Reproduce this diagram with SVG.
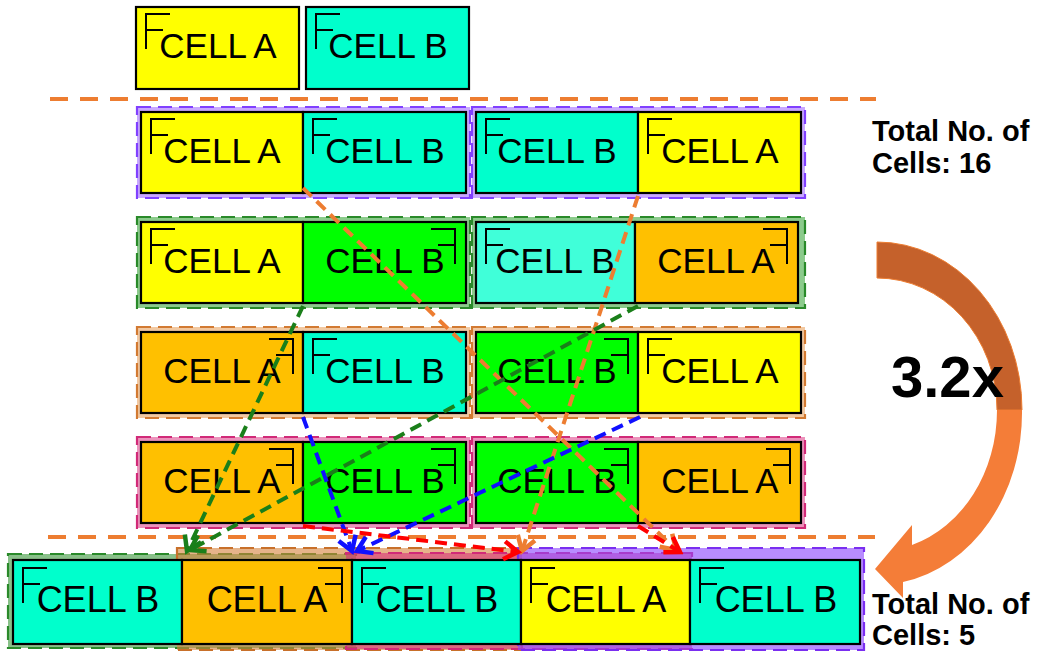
<svg xmlns="http://www.w3.org/2000/svg" xmlns:xlink="http://www.w3.org/1999/xlink" width="1037" height="651" viewBox="0 0 1037 651">
  <style>
    .cell { stroke: #000; stroke-width: 2.2; }
    .ya { fill: #FFFF00; }
    .cb { fill: #00FFCC; }
    .cb2 { fill: #40FFD9; }
    .gb { fill: #00FF00; }
    .oa { fill: #FFC000; }
    .lbl { font-family: "Liberation Sans", Arial, sans-serif; font-size: 35px; text-anchor: middle; fill: #000; }
    .lbl2 { font-family: "Liberation Sans", Arial, sans-serif; font-size: 36px; text-anchor: middle; fill: #000; }
    .mark { fill: none; stroke: #000; stroke-width: 2; }
    .band { stroke-width: 2.2; stroke-dasharray: 14 7; }
    .b-pur { fill: #C9A8FF; stroke: #8040FF; }
    .b-grn { fill: #8CCB8C; stroke: #2A8A2A; }
    .b-org { fill: #F2C9A2; stroke: #D27A32; }
    .b-pnk { fill: #EC93BC; stroke: #D12A78; }
    .o-grn { fill: rgba(40,140,40,0.55); stroke: #2A8A2A; }
    .o-org { fill: rgba(214,130,60,0.6); stroke: #C8702A; }
    .o-pnk { fill: rgba(214,40,120,0.55); stroke: #D12A78; }
    .o-pur { fill: rgba(140,70,255,0.62); stroke: #7A2EF0; }
    .sep { stroke: #ED7D31; stroke-width: 4; stroke-dasharray: 18 12; fill: none; }
    .conn { fill: none; stroke-width: 4; stroke-dasharray: 12 7; }
    .note { font-family: "Liberation Sans", Arial, sans-serif; font-weight: bold; font-size: 29px; fill: #000; }
  </style>
  <defs>
    <!-- orientation flags: normal F and mirrored F -->
    <path id="fN" class="mark" d="M0,35 V0 H24 M0,16 H17"/>
    <path id="fM" class="mark" d="M0,35 V0 H-24 M0,16 H-17"/>
    <marker id="ah-o" viewBox="-18 -12 22 24" markerWidth="22" markerHeight="24" refX="0" refY="0" orient="auto" markerUnits="userSpaceOnUse">
      <path d="M-14,-9 L0,0 L-14,9" fill="none" stroke="#ED7D31" stroke-width="4.5"/>
    </marker>
    <marker id="ah-g" viewBox="-18 -12 22 24" markerWidth="22" markerHeight="24" refX="0" refY="0" orient="auto" markerUnits="userSpaceOnUse">
      <path d="M-14,-9 L0,0 L-14,9" fill="none" stroke="#1A7F1A" stroke-width="4.5"/>
    </marker>
    <marker id="ah-b" viewBox="-18 -12 22 24" markerWidth="22" markerHeight="24" refX="0" refY="0" orient="auto" markerUnits="userSpaceOnUse">
      <path d="M-14,-9 L0,0 L-14,9" fill="none" stroke="#1010FF" stroke-width="4.5"/>
    </marker>
    <marker id="ah-r" viewBox="-18 -12 22 24" markerWidth="22" markerHeight="24" refX="0" refY="0" orient="auto" markerUnits="userSpaceOnUse">
      <path d="M-14,-9 L0,0 L-14,9" fill="none" stroke="#FF0000" stroke-width="4.5"/>
    </marker>
  </defs>

  <rect width="1037" height="651" fill="#fff"/>

  <!-- library cells -->
  <g id="lib-cell-a">
    <rect class="cell ya" x="136" y="7" width="163" height="82"/>
    <use href="#fN" x="146" y="14"/>
    <text class="lbl" x="218" y="58">CELL A</text>
  </g>
  <g id="lib-cell-b">
    <rect class="cell cb" x="306" y="7" width="163" height="82"/>
    <use href="#fN" x="316" y="14"/>
    <text class="lbl" x="388" y="58">CELL B</text>
  </g>

  <!-- separators -->
  <line class="sep" x1="50" y1="99" x2="876" y2="99"/>
  <line class="sep" x1="48" y1="537" x2="875" y2="537"/>

  <!-- row 1: purple pairs -->
  <g id="r1-left">
    <rect class="band b-pur" x="137" y="107" width="333" height="91"/>
    <rect class="cell ya" x="141" y="112" width="162" height="81"/>
    <rect class="cell cb" x="303" y="112" width="163" height="81"/>
    <use href="#fN" x="151" y="119"/>
    <use href="#fN" x="313" y="119"/>
    <text class="lbl" x="222" y="163">CELL A</text>
    <text class="lbl" x="385" y="163">CELL B</text>
  </g>
  <g id="r1-right">
    <rect class="band b-pur" x="472" y="107" width="333" height="91"/>
    <rect class="cell cb" x="476" y="112" width="162" height="81"/>
    <rect class="cell ya" x="638" y="112" width="163" height="81"/>
    <use href="#fN" x="486" y="119"/>
    <use href="#fN" x="648" y="119"/>
    <text class="lbl" x="557" y="163">CELL B</text>
    <text class="lbl" x="720" y="163">CELL A</text>
  </g>

  <!-- row 2: green pairs -->
  <g id="r2-left">
    <rect class="band b-grn" x="137" y="217" width="333" height="91"/>
    <rect class="cell ya" x="141" y="222" width="162" height="81"/>
    <rect class="cell gb" x="303" y="222" width="163" height="81"/>
    <use href="#fN" x="151" y="229"/>
    <use href="#fM" x="455" y="229"/>
    <text class="lbl" x="222" y="273">CELL A</text>
    <text class="lbl" x="385" y="273">CELL B</text>
  </g>
  <g id="r2-right">
    <rect class="band b-grn" x="472" y="217" width="333" height="91"/>
    <rect class="cell cb2" x="476" y="222" width="159" height="81"/>
    <rect class="cell oa" x="635" y="222" width="163" height="81"/>
    <use href="#fN" x="486" y="229"/>
    <use href="#fM" x="787" y="229"/>
    <text class="lbl" x="555" y="273">CELL B</text>
    <text class="lbl" x="716" y="273">CELL A</text>
  </g>

  <!-- row 3: orange pairs -->
  <g id="r3-left">
    <rect class="band b-org" x="137" y="327" width="333" height="91"/>
    <rect class="cell oa" x="141" y="332" width="162" height="81"/>
    <rect class="cell cb" x="303" y="332" width="163" height="81"/>
    <use href="#fM" x="293" y="339"/>
    <use href="#fN" x="313" y="339"/>
    <text class="lbl" x="222" y="383">CELL A</text>
    <text class="lbl" x="385" y="383">CELL B</text>
  </g>
  <g id="r3-right">
    <rect class="band b-org" x="472" y="327" width="333" height="91"/>
    <rect class="cell gb" x="476" y="332" width="162" height="81"/>
    <rect class="cell ya" x="638" y="332" width="163" height="81"/>
    <use href="#fM" x="628" y="339"/>
    <use href="#fN" x="648" y="339"/>
    <text class="lbl" x="557" y="383">CELL B</text>
    <text class="lbl" x="720" y="383">CELL A</text>
  </g>

  <!-- row 4: pink pairs -->
  <g id="r4-left">
    <rect class="band b-pnk" x="137" y="437" width="333" height="91"/>
    <rect class="cell oa" x="141" y="442" width="162" height="81"/>
    <rect class="cell gb" x="303" y="442" width="163" height="81"/>
    <use href="#fM" x="293" y="449"/>
    <use href="#fM" x="455" y="449"/>
    <text class="lbl" x="222" y="493">CELL A</text>
    <text class="lbl" x="385" y="493">CELL B</text>
  </g>
  <g id="r4-right">
    <rect class="band b-pnk" x="472" y="437" width="333" height="91"/>
    <rect class="cell gb" x="476" y="442" width="162" height="81"/>
    <rect class="cell oa" x="638" y="442" width="163" height="81"/>
    <use href="#fM" x="628" y="449"/>
    <use href="#fM" x="790" y="449"/>
    <text class="lbl" x="557" y="493">CELL B</text>
    <text class="lbl" x="720" y="493">CELL A</text>
  </g>

  <!-- final merged row -->
  <g id="merged-row">
    <rect class="band o-grn" x="8" y="554" width="348" height="94"/>
    <rect class="band o-org" x="177" y="548" width="345" height="102"/>
    <rect class="band o-pnk" x="346" y="553" width="346" height="96"/>
    <rect class="band o-pur" x="518" y="548" width="346" height="102"/>
    <rect class="cell cb" x="13" y="560" width="169" height="84"/>
    <rect class="cell oa" x="182" y="560" width="170" height="84"/>
    <rect class="cell cb" x="352" y="560" width="169" height="84"/>
    <rect class="cell ya" x="521" y="560" width="169" height="84"/>
    <rect class="cell cb" x="690" y="560" width="170" height="84"/>
    <use href="#fN" x="23" y="568"/>
    <use href="#fM" x="342" y="568"/>
    <use href="#fN" x="362" y="568"/>
    <use href="#fN" x="531" y="568"/>
    <use href="#fN" x="700" y="568"/>
    <text class="lbl2" x="98" y="612">CELL B</text>
    <text class="lbl2" x="267" y="612">CELL A</text>
    <text class="lbl2" x="437" y="612">CELL B</text>
    <text class="lbl2" x="606" y="612">CELL A</text>
    <text class="lbl2" x="776" y="612">CELL B</text>
  </g>

  <!-- placement moves -->
  <g id="connectors">
    <line class="conn" stroke="#ED7D31" x1="303" y1="188" x2="676" y2="550" marker-end="url(#ah-o)"/>
    <line class="conn" stroke="#ED7D31" x1="638" y1="196" x2="522" y2="551" marker-end="url(#ah-o)"/>
    <line class="conn" stroke="#1A7F1A" x1="303" y1="306" x2="187" y2="551" marker-end="url(#ah-g)"/>
    <line class="conn" stroke="#1A7F1A" x1="638" y1="306" x2="190" y2="550" marker-end="url(#ah-g)"/>
    <line class="conn" stroke="#1010FF" x1="303" y1="417" x2="352" y2="551" marker-end="url(#ah-b)"/>
    <line class="conn" stroke="#1010FF" x1="640" y1="417" x2="357" y2="551" marker-end="url(#ah-b)"/>
    <line class="conn" stroke="#FF0000" x1="303" y1="526" x2="518" y2="552" marker-end="url(#ah-r)"/>
    <line class="conn" stroke="#FF0000" x1="638" y1="526" x2="680" y2="552" marker-end="url(#ah-r)"/>
  </g>

  <!-- reduction arrow -->
  <g id="reduction-arrow">
    <path fill="#C5612B" stroke="#ED7D31" stroke-width="1" d="M877,242 A145,168 0 0 1 1022,410 L997,410 A120,132 0 0 0 877,278 Z"/>
    <path fill="#F47D38" d="M1022,410 A145,172 0 0 1 903,582 L903,598 L875,569 L912,525 L912,545 A120,141 0 0 0 997,410 Z"/>
    <text x="891" y="397" font-family="Liberation Sans, Arial, sans-serif" font-weight="bold" font-size="58" fill="#000">3.2x</text>
  </g>

  <g id="count-before">
    <text class="note" x="872" y="141">Total No. of</text>
    <text class="note" x="872" y="173">Cells: 16</text>
  </g>
  <g id="count-after">
    <text class="note" x="872" y="614">Total No. of</text>
    <text class="note" x="872" y="645">Cells: 5</text>
  </g>
</svg>
